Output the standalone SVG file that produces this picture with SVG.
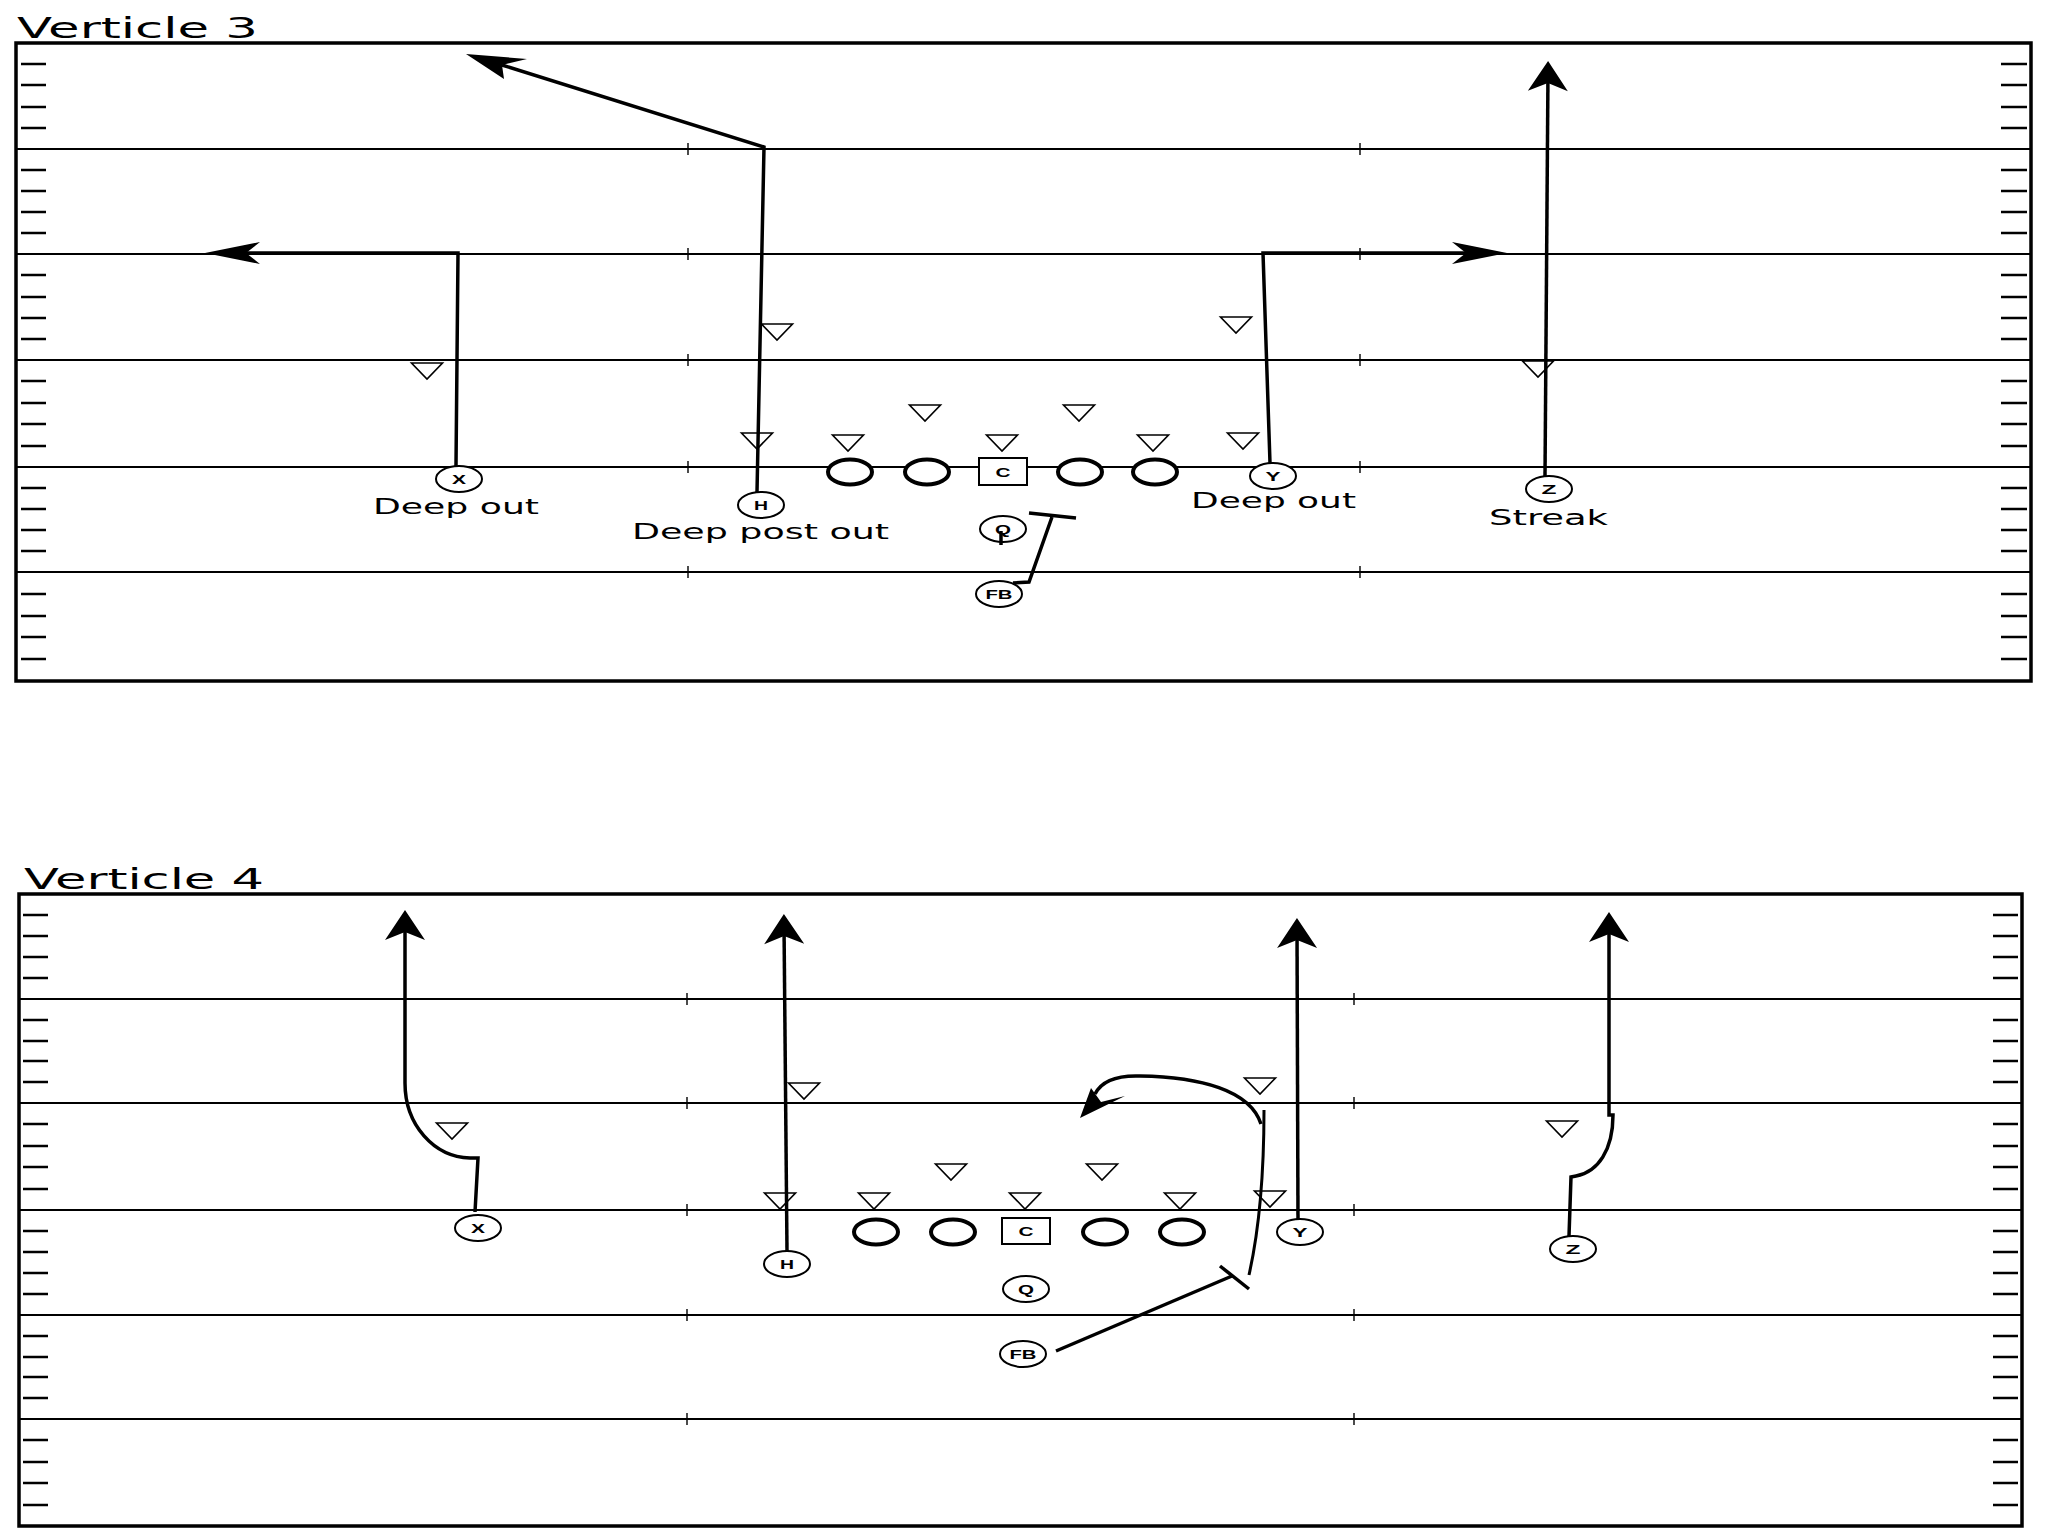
<svg xmlns="http://www.w3.org/2000/svg" width="2048" height="1536" viewBox="0 0 2048 1536">
<style>
.bg{fill:#fff}
.border{fill:none;stroke:#000;stroke-width:3.5}
.yard{stroke:#000;stroke-width:2;fill:none}
.side{stroke:#000;stroke-width:2.6;fill:none}
.hash{stroke:#000;stroke-width:1.4;fill:none}
.tri{fill:none;stroke:#000;stroke-width:1.6}
.ol{fill:#fff;stroke:#000;stroke-width:4}
.box{fill:#fff;stroke:#000;stroke-width:2}
.pl{fill:#fff;stroke:#000;stroke-width:2}
.route{fill:none;stroke:#000;stroke-width:3.5;stroke-linejoin:miter}
.head{fill:#000;stroke:none}
.title{font-family:"DejaVu Sans",Verdana,sans-serif;font-size:28px;fill:#000}
.lbl{font-family:"DejaVu Sans",Verdana,sans-serif;font-size:21px;fill:#000}
.pt{font-family:"Liberation Sans",Arial,sans-serif;font-weight:bold;font-size:13px;fill:#000;text-anchor:middle}
</style>
<defs>
<marker id="arrowV" markerUnits="userSpaceOnUse" orient="auto" refX="0" refY="0" markerWidth="80" markerHeight="80" viewBox="-60 -40 80 80" overflow="visible">
<path class="head" d="M10,0 L-20,-20 L-12,0 L-20,20 Z"/>
</marker>
<marker id="arrowH" markerUnits="userSpaceOnUse" orient="auto" refX="0" refY="0" markerWidth="100" markerHeight="40" viewBox="-80 -20 100 40" overflow="visible">
<path class="head" d="M10,0 L-45,-11 L-31,0 L-45,11 Z"/>
</marker>
</defs>
<rect class="bg" x="0" y="0" width="2048" height="1536"/>

<!-- ===== Verticle 3 ===== -->
<g id="field-v3">
<text class="title" x="17" y="38" textLength="241" lengthAdjust="spacingAndGlyphs">Verticle 3</text>
<rect class="border" x="16" y="43" width="2015" height="638"/>
<path class="yard" d="M16,149H2031M16,254H2031M16,360H2031M16,467H2031M16,572H2031"/>
<path class="hash" d="M688,143V155M1360,143V155M688,248V260M1360,248V260M688,354V366M1360,354V366M688,461V473M1360,461V473M688,566V578M1360,566V578"/>
<path class="side" d="M21,64H46M21,85H46M21,107H46M21,128H46M21,170H46M21,191H46M21,212H46M21,233H46M21,275H46M21,297H46M21,318H46M21,339H46M21,381H46M21,403H46M21,424H46M21,446H46M21,488H46M21,509H46M21,530H46M21,551H46M21,594H46M21,616H46M21,637H46M21,659H46"/>
<path class="side" d="M2001,64H2027M2001,85H2027M2001,107H2027M2001,128H2027M2001,170H2027M2001,191H2027M2001,212H2027M2001,233H2027M2001,275H2027M2001,297H2027M2001,318H2027M2001,339H2027M2001,381H2027M2001,403H2027M2001,424H2027M2001,446H2027M2001,488H2027M2001,509H2027M2001,530H2027M2001,551H2027M2001,594H2027M2001,616H2027M2001,637H2027M2001,659H2027"/>
</g>

<g id="defense-v3">
<polygon class="tri" points="411.5,363 442.5,363 427,379"/>
<polygon class="tri" points="761.5,324 792.5,324 777,340"/>
<polygon class="tri" points="741.5,433 772.5,433 757,449"/>
<polygon class="tri" points="832.5,435 863.5,435 848,451"/>
<polygon class="tri" points="909.5,405 940.5,405 925,421"/>
<polygon class="tri" points="986.5,435 1017.5,435 1002,451"/>
<polygon class="tri" points="1063.5,405 1094.5,405 1079,421"/>
<polygon class="tri" points="1137.5,435 1168.5,435 1153,451"/>
<polygon class="tri" points="1220.5,317 1251.5,317 1236,333"/>
<polygon class="tri" points="1227.5,433 1258.5,433 1243,449"/>
<polygon class="tri" points="1522.5,361 1553.5,361 1538,377"/>
</g>

<g id="routes-v3">
<path class="route" d="M456,466 L458,253 L215,253" marker-end="url(#arrowH)"/>
<path class="route" d="M757,492 L764,147 L502,65"/>
<path class="head" d="M466,54 L527,59 L502,65 L504,79 Z"/>
<path class="route" d="M1270,463 L1263,253 L1497,253" marker-end="url(#arrowH)"/>
<path class="route" d="M1545,476 L1548,71" marker-end="url(#arrowV)"/>
<path class="route" d="M1013,583 L1029,582 L1052,517"/>
<path class="route" d="M1029,513 L1076,518"/>
<path class="route" d="M1001,531 L1001,545"/>
</g>

<g id="v3-LT"><ellipse class="ol" cx="850" cy="472" rx="22" ry="12.5"/></g>
<g id="v3-LG"><ellipse class="ol" cx="927" cy="472" rx="22" ry="12.5"/></g>
<g id="v3-C"><rect class="box" x="979" y="458" width="48" height="27"/><text class="pt" x="1003" y="476.5" textLength="15" lengthAdjust="spacingAndGlyphs">C</text></g>
<g id="v3-RG"><ellipse class="ol" cx="1080" cy="472" rx="22" ry="12.5"/></g>
<g id="v3-RT"><ellipse class="ol" cx="1155" cy="472" rx="22" ry="12.5"/></g>
<g id="v3-X"><ellipse class="pl" cx="459" cy="479" rx="23" ry="13"/><text class="pt" x="459" y="483.5" textLength="14" lengthAdjust="spacingAndGlyphs">X</text>
<text class="lbl" x="373" y="514" textLength="166" lengthAdjust="spacingAndGlyphs">Deep out</text></g>
<g id="v3-H"><ellipse class="pl" cx="761" cy="505" rx="23" ry="13"/><text class="pt" x="761" y="509.5" textLength="14" lengthAdjust="spacingAndGlyphs">H</text>
<text class="lbl" x="632" y="539" textLength="257" lengthAdjust="spacingAndGlyphs">Deep post out</text></g>
<g id="v3-Y"><ellipse class="pl" cx="1273" cy="476" rx="23" ry="13"/><text class="pt" x="1273" y="480.5" textLength="15" lengthAdjust="spacingAndGlyphs">Y</text>
<text class="lbl" x="1191" y="508" textLength="165" lengthAdjust="spacingAndGlyphs">Deep out</text></g>
<g id="v3-Z"><ellipse class="pl" cx="1549" cy="489" rx="23" ry="13"/><text class="pt" x="1549" y="493.5" textLength="15" lengthAdjust="spacingAndGlyphs">Z</text>
<text class="lbl" x="1489" y="525" textLength="119" lengthAdjust="spacingAndGlyphs">Streak</text></g>
<g id="v3-Q"><ellipse class="pl" cx="1003" cy="529" rx="23" ry="13" fill="none" style="fill:none"/><text class="pt" x="1003" y="533.5" textLength="16" lengthAdjust="spacingAndGlyphs">Q</text></g>
<g id="v3-FB"><ellipse class="pl" cx="999" cy="594" rx="23" ry="13"/><text class="pt" x="999" y="598.5" textLength="27" lengthAdjust="spacingAndGlyphs">FB</text></g>

<!-- ===== Verticle 4 ===== -->
<g id="field-v4">
<text class="title" x="24" y="889" textLength="240" lengthAdjust="spacingAndGlyphs">Verticle 4</text>
<rect class="border" x="19" y="894" width="2003" height="632"/>
<path class="yard" d="M19,999H2022M19,1103H2022M19,1210H2022M19,1315H2022M19,1419H2022"/>
<path class="hash" d="M687,993V1005M1354,993V1005M687,1097V1109M1354,1097V1109M687,1204V1216M1354,1204V1216M687,1309V1321M1354,1309V1321M687,1413V1425M1354,1413V1425"/>
<path class="side" d="M23,915H48M23,936H48M23,957H48M23,978H48M23,1020H48M23,1041H48M23,1061H48M23,1082H48M23,1124H48M23,1146H48M23,1167H48M23,1189H48M23,1231H48M23,1252H48M23,1273H48M23,1294H48M23,1336H48M23,1357H48M23,1377H48M23,1398H48M23,1440H48M23,1462H48M23,1483H48M23,1505H48"/>
<path class="side" d="M1993,915H2018M1993,936H2018M1993,957H2018M1993,978H2018M1993,1020H2018M1993,1041H2018M1993,1061H2018M1993,1082H2018M1993,1124H2018M1993,1146H2018M1993,1167H2018M1993,1189H2018M1993,1231H2018M1993,1252H2018M1993,1273H2018M1993,1294H2018M1993,1336H2018M1993,1357H2018M1993,1377H2018M1993,1398H2018M1993,1440H2018M1993,1462H2018M1993,1483H2018M1993,1505H2018"/>
</g>

<g id="defense-v4">
<polygon class="tri" points="436.5,1123 467.5,1123 452,1139"/>
<polygon class="tri" points="788.5,1083 819.5,1083 804,1099"/>
<polygon class="tri" points="764.5,1193 795.5,1193 780,1209"/>
<polygon class="tri" points="858.5,1193 889.5,1193 874,1209"/>
<polygon class="tri" points="935.5,1164 966.5,1164 951,1180"/>
<polygon class="tri" points="1009.5,1193 1040.5,1193 1025,1209"/>
<polygon class="tri" points="1086.5,1164 1117.5,1164 1102,1180"/>
<polygon class="tri" points="1164.5,1193 1195.5,1193 1180,1209"/>
<polygon class="tri" points="1244.5,1078 1275.5,1078 1260,1094"/>
<polygon class="tri" points="1254.5,1191 1285.5,1191 1270,1207"/>
<polygon class="tri" points="1546.5,1121 1577.5,1121 1562,1137"/>
</g>

<g id="routes-v4">
<path class="route" d="M475,1212 L478,1158 L470,1158 C434,1157 405,1125 405,1083 L405,920" marker-end="url(#arrowV)"/>
<path class="route" d="M787,1251 L784,924" marker-end="url(#arrowV)"/>
<path class="route" d="M1298,1219 L1297,928" marker-end="url(#arrowV)"/>
<path class="route" d="M1569,1236 L1571,1177 L1576,1176 C1598,1172 1613,1150 1613,1115 L1609,1115 L1609,922" marker-end="url(#arrowV)"/>
<path class="route" d="M1056,1351 L1232,1276"/>
<path class="route" d="M1220,1266 L1249,1289"/>
<path class="route" style="stroke-width:3" d="M1249,1275 C1258,1235 1264,1180 1264,1110"/>
<path class="route" d="M1261,1124 C1250,1090 1200,1077 1140,1076 C1112,1075 1100,1084 1095,1094"/>
<path class="head" d="M1080,1118 L1125,1096 L1101,1102 L1091,1088 Z"/>
</g>

<g id="v4-LT"><ellipse class="ol" cx="876" cy="1232" rx="22" ry="12.5"/></g>
<g id="v4-LG"><ellipse class="ol" cx="953" cy="1232" rx="22" ry="12.5"/></g>
<g id="v4-C"><rect class="box" x="1002" y="1218" width="48" height="26"/><text class="pt" x="1026" y="1235.5" textLength="15" lengthAdjust="spacingAndGlyphs">C</text></g>
<g id="v4-RG"><ellipse class="ol" cx="1105" cy="1232" rx="22" ry="12.5"/></g>
<g id="v4-RT"><ellipse class="ol" cx="1182" cy="1232" rx="22" ry="12.5"/></g>
<g id="v4-X"><ellipse class="pl" cx="478" cy="1228" rx="23" ry="13"/><text class="pt" x="478" y="1232.5" textLength="14" lengthAdjust="spacingAndGlyphs">X</text></g>
<g id="v4-H"><ellipse class="pl" cx="787" cy="1264" rx="23" ry="13"/><text class="pt" x="787" y="1268.5" textLength="14" lengthAdjust="spacingAndGlyphs">H</text></g>
<g id="v4-Y"><ellipse class="pl" cx="1300" cy="1232" rx="23" ry="13"/><text class="pt" x="1300" y="1236.5" textLength="15" lengthAdjust="spacingAndGlyphs">Y</text></g>
<g id="v4-Z"><ellipse class="pl" cx="1573" cy="1249" rx="23" ry="13"/><text class="pt" x="1573" y="1253.5" textLength="15" lengthAdjust="spacingAndGlyphs">Z</text></g>
<g id="v4-Q"><ellipse class="pl" cx="1026" cy="1289" rx="23" ry="13"/><text class="pt" x="1026" y="1293.5" textLength="16" lengthAdjust="spacingAndGlyphs">Q</text></g>
<g id="v4-FB"><ellipse class="pl" cx="1023" cy="1354" rx="23" ry="13"/><text class="pt" x="1023" y="1358.5" textLength="27" lengthAdjust="spacingAndGlyphs">FB</text></g>
</svg>
